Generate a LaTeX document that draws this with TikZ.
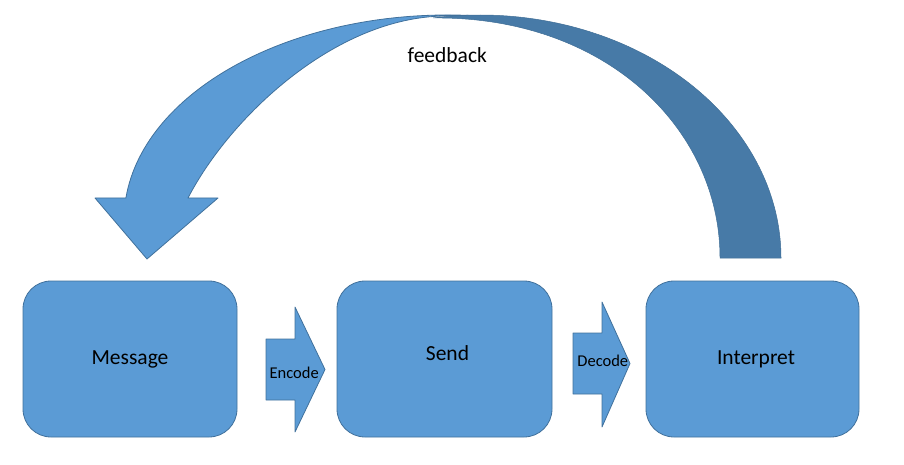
\documentclass[tikz,border=0pt]{standalone}
\usepackage{fontspec}
\setmainfont{Carlito}
\definecolor{boxfill}{HTML}{5B9BD5}
\definecolor{boxline}{HTML}{41719C}
\definecolor{darkband}{HTML}{477AA7}
\begin{document}
\begin{tikzpicture}[x=1pt,y=1pt,
  blk/.style={fill=boxfill, draw=boxline, line width=0.8pt, line join=round},
  box/.style={blk, rounded corners=28pt, inner sep=0pt, minimum height=156pt},
  lbl/.style={font=\fontsize{21.5}{25}\selectfont, anchor=base, inner sep=0pt},
  slbl/.style={font=\fontsize{16.5}{19}\selectfont, anchor=base, inner sep=0pt}]
\useasboundingbox (0,0) rectangle (904,464);

% boxes
\node[box, minimum width=214pt] (message) at (130,105) {};
\node[box, minimum width=215pt] (send) at (444.5,105) {};
\node[box, minimum width=213pt] (interpret) at (752.5,105) {};
\node[lbl] (messagetext) at (130,100) {Message};
\node[lbl] (sendtext) at (447.5,103.3) {Send};
\node[lbl] (interprettext) at (756,100) {Interpret};

% block arrows
\draw[blk] (266,64) -- (295,64) -- (295,32) -- (325,94.5) -- (295,157) -- (295,125) -- (266,125) -- cycle;
\draw[blk] (573,70) -- (602,70) -- (602,37) -- (630,100.5) -- (602,162) -- (602,131) -- (573,131) -- cycle;
\node[slbl] (encode) at (294.2,86) {Encode};
\node[slbl] (decode) at (602.8,98) {Decode};

% curved feedback arrow: light front band with head
\draw[blk] (188,266) -- (218,266) -- (147,205) -- (95,266) -- (125.9,266)
  arc[start angle=173.84, end angle=86.1, x radius=324pt, y radius=205pt]
  -- (445,448) .. controls (335,447) and (229.4,346.1) .. (188,266) -- cycle;
% dark back band
\draw[fill=darkband, draw=darkband!90!black, line width=0.5pt] (781,206)
  arc[start angle=0, end angle=99, x radius=301pt, y radius=243pt]
  .. controls (605,448) and (720,336) .. (720,206) -- cycle;
\node[lbl] (feedback) at (447.3,401.7) {feedback};
\end{tikzpicture}
\end{document}
